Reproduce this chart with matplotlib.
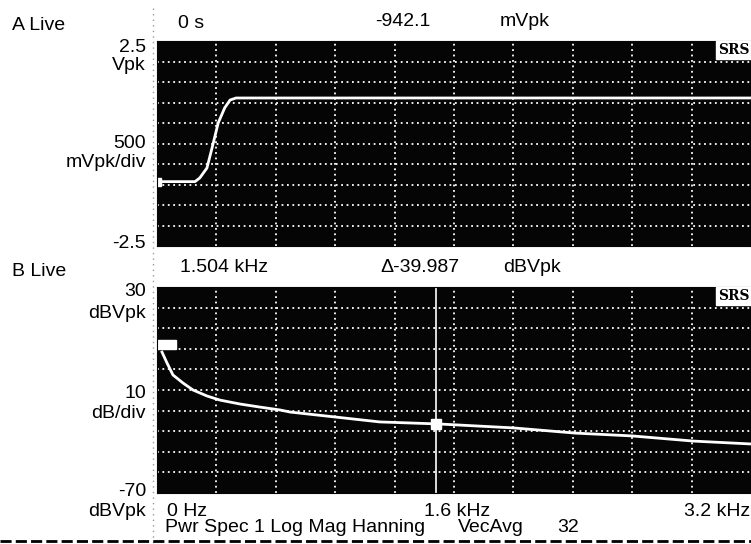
import matplotlib
matplotlib.use("Agg")
import matplotlib.pyplot as plt
from matplotlib.patches import Rectangle
from matplotlib.lines import Line2D

plt.rcParams['font.family'] = ['Liberation Sans', 'DejaVu Sans']

W, H = 751, 544

# --- data read off the screen capture ---
# channel A: time record, x in screen divisions (0..10), volts
time_div = [0.08, 0.64, 0.72, 0.84, 0.93, 1.03, 1.14, 1.23, 1.33, 10.0]
volts = [-0.93, -0.93, -0.84, -0.60, -0.09, 0.50, 0.87, 1.06, 1.11, 1.11]
a_marker_div, a_marker_v = 0.0, -0.942

# channel B: power spectrum, kHz vs dBVpk
freq_khz = [0.027, 0.054, 0.086, 0.140, 0.194, 0.269, 0.339, 0.447, 0.555,
            0.663, 0.717, 0.959, 1.20, 1.52, 1.92, 2.25, 2.56, 2.89, 3.2]
mag_db = [-1.6, -6.9, -12.7, -16.6, -20.0, -22.9, -24.9, -26.8, -28.3,
          -29.7, -30.7, -33.1, -35.5, -36.5, -38.4, -40.9, -42.3, -44.8, -46.2]
b_marker_khz, b_marker_db = 1.504, -36.5
b_ref_khz = (0.0, 0.10)
b_ref_db = (-0.1, 4.3)

x_ticks_b = ['0 Hz', '1.6 kHz', '3.2 kHz']


def fx(x):
    return x / W


def fy(y):
    return 1 - y / H


def put(x, y, s, ha='left', size=14, **kw):
    fig.text(fx(x), fy(y), s, ha=ha, va='center', fontsize=size, color='black', **kw)


def style_screen(ax, xmax, ymin, ymax):
    ax.set_facecolor('#050505')
    ax.set_xlim(0, xmax)
    ax.set_ylim(ymin, ymax)
    ax.set_xticks([xmax * i / 10 for i in range(1, 10)])
    ax.set_yticks([ymin + (ymax - ymin) * i / 10 for i in range(1, 10)])
    ax.tick_params(length=0, labelbottom=False, labelleft=False)
    ax.grid(True, color='white', linestyle=(0, (1, 2)), linewidth=1.3)
    for sp in ax.spines.values():
        sp.set_color('#050505')
    ax.text(0.998, 0.99, 'SRS', transform=ax.transAxes, ha='right', va='top',
            fontsize=10, fontweight='bold', family='DejaVu Serif', color='black',
            bbox=dict(boxstyle='square,pad=0.15', fc='white', ec='white'))


fig = plt.figure(figsize=(W / 100, H / 100), dpi=100)

# panel A
axA = fig.add_axes([fx(157), fy(246), (W - 157) / W, 205 / H])
style_screen(axA, 10, -2.5, 2.5)
axA.plot(time_div, volts, color='white', lw=2)
axA.plot([a_marker_div], [a_marker_v], 's', color='white', ms=6)

# panel B
axB = fig.add_axes([fx(157), fy(493), (W - 157) / W, 206 / H])
style_screen(axB, 3.2, -70, 30)
axB.plot(freq_khz, mag_db, color='white', lw=2)
axB.axvline(b_marker_khz, color='white', lw=1.2)
axB.plot([b_marker_khz], [b_marker_db], 's', color='white', ms=7)
axB.add_patch(Rectangle((b_ref_khz[0], b_ref_db[0]), b_ref_khz[1] - b_ref_khz[0],
                        b_ref_db[1] - b_ref_db[0], color='white'))

# header texts
put(12, 25, 'A Live')
put(178, 23, '0 s')
put(375, 21, '-942.1')
put(500, 21, 'mVpk')

put(12, 271, 'B Live')
put(180, 268, '1.504 kHz')
put(380, 268, '\u0394-39.987')
put(503, 268, 'dBVpk')

# y scale labels
for y, s in [(47, '2.5'), (65, 'Vpk'), (143, '500'), (163, 'mVpk/div'), (243, '-2.5'),
             (292, '30'), (313, 'dBVpk'), (393, '10'), (414, 'dB/div'),
             (491, '-70'), (511, 'dBVpk')]:
    put(146, y, s, ha='right')

# x scale labels
put(167, 511, x_ticks_b[0])
put(457, 511, x_ticks_b[1], ha='center')
put(750, 511, x_ticks_b[2], ha='right')
put(165, 527, 'Pwr Spec 1 Log Mag Hanning')
put(458, 527, 'VecAvg')
put(557, 527, '32')

# separator lines of the printout
fig.add_artist(Line2D([fx(153), fx(153)], [fy(8), fy(544)], color='#999999',
                      lw=1, linestyle=(0, (1, 3))))
fig.add_artist(Line2D([0, 1], [fy(541), fy(541)], color='black',
                      lw=2, linestyle=(0, (4, 1.5))))

fig.savefig('out.png', dpi=100)
